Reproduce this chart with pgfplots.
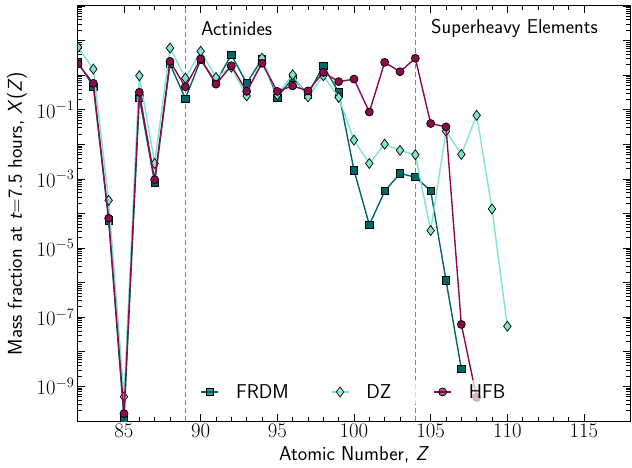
\documentclass[border=0pt]{standalone}
\usepackage{pgfplots}
\pgfplotsset{compat=1.18}
\usepackage{sansmath}
\renewcommand{\familydefault}{\sfdefault}
\definecolor{frdm}{RGB}{0,102,102}
\definecolor{dz}{RGB}{127,229,208}
\definecolor{hfb}{RGB}{139,10,80}
\begin{document}
\sansmath
\begin{tikzpicture}
\path[use as bounding box] (-78pt,-47pt) rectangle (554pt,421pt);
\begin{axis}[
    scale only axis, width=552pt, height=415pt,
    at={(0,0)}, anchor=south west,
    ymode=log, xmin=82, xmax=118, ymin=1e-10, ymax=1e2,
    xtick={85,90,...,115}, minor x tick num=4,
    ytick={1e-10,1e-9,1e-8,1e-7,1e-6,1e-5,1e-4,1e-3,1e-2,1e-1,1e0,1e1,1e2},
    yticklabels={,$10^{-9}$,,$10^{-7}$,,$10^{-5}$,,$10^{-3}$,,$10^{-1}$,,,},
    tick align=inside, ticks=both, xtick pos=both, ytick pos=both,
    major tick length=7pt, minor tick length=4pt,
    axis line style={line width=1pt}, every tick/.style={black, line width=0.8pt},
    font=\fontsize{20}{24}\selectfont,
    tick label style={font=\fontsize{20}{24}\selectfont},
    xlabel={Atomic Number, \textit{Z}},
    ylabel={Mass fraction at \textit{t}=7.5 hours, \textit{X}(\textit{Z})},
    every axis x label/.style={at={(axis description cs:0.5,0)}, yshift=-34pt, anchor=center},
    every axis y label/.style={at={(axis description cs:0,0.5)}, xshift=-61pt, rotate=90, anchor=center},
    clip marker paths=true,
    legend columns=3,
    legend style={at={(0.5,0.07)}, anchor=center, draw=none, fill=white, fill opacity=0.7, text opacity=1,
        font=\fontsize{20}{24}\selectfont,
        /tikz/every odd column/.append style={column sep=15pt},
        /tikz/every even column/.append style={column sep=40pt}},
]
\draw[gray, line width=0.8pt, dash pattern=on 5pt off 3pt] (axis cs:89,1e-10) -- (axis cs:89,1e2);
\draw[gray, line width=0.8pt, dash pattern=on 5pt off 3pt] (axis cs:104,1e-10) -- (axis cs:104,1e2);
\node[anchor=west] at (axis cs:89.8,22) {Actinides};
\node[anchor=west] at (axis cs:104.8,22) {Superheavy Elements};
% FRDM
\addplot[frdm, line width=1.4pt, mark=square*, mark size=3.6pt, mark options={fill=frdm, draw=black, line width=0.7pt}] coordinates {
(82,2.36) (83,0.47) (84,6.3e-5) (85,1.13e-10) (86,0.226) (87,7.7e-4) (88,2.1) (89,0.21)
(90,2.75) (91,0.63) (92,3.9) (93,0.58) (94,2.94) (95,0.226) (96,0.82) (97,0.28) (98,1.88)
(99,0.32) (100,1.78e-3) (101,4.7e-5) (102,4.4e-4) (103,1.45e-3) (104,1.12e-3) (105,4.6e-4)
(106,1.17e-6) (107,3.2e-9)};
\addlegendentry{FRDM}
% DZ
\addplot[dz, line width=1.4pt, mark=diamond*, mark size=5pt, mark options={fill=dz, draw=black, line width=0.7pt}] coordinates {
(82,6.4) (83,1.5) (84,2.4e-4) (85,5e-10) (86,0.96) (87,2.8e-3) (88,6.1) (89,0.82)
(90,4.9) (91,0.86) (92,1.7) (93,0.25) (94,3.1) (95,0.27) (96,1.03) (97,0.235) (98,0.96)
(99,0.226) (100,0.0132) (101,2.8e-3) (102,0.0101) (103,6.7e-3) (104,5.0e-3) (105,3.2e-5)
(106,0.024) (107,5.1e-3) (108,0.069) (109,1.35e-4) (110,5.5e-8)};
\addlegendentry{DZ}
% HFB
\addplot[hfb, line width=1.4pt, mark=*, mark size=4pt, mark options={fill=hfb, draw=black, line width=0.7pt}] coordinates {
(82,2.1) (83,0.58) (84,7.3e-5) (85,1.64e-10) (86,0.32) (87,9.5e-4) (88,2.5) (89,0.46)
(90,2.94) (91,0.55) (92,1.88) (93,0.34) (94,2.2) (95,0.34) (96,0.49) (97,0.35) (98,1.2)
(99,0.65) (100,0.77) (101,0.086) (102,2.35) (103,1.26) (104,3.08) (105,0.040) (106,0.032)
(107,6.2e-8) (108,4.8e-10)};
\addlegendentry{HFB}
\end{axis}
\end{tikzpicture}
\end{document}
